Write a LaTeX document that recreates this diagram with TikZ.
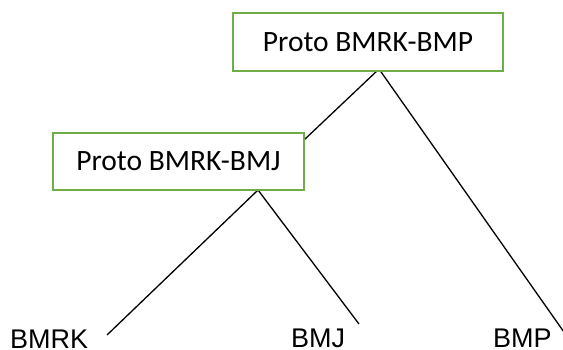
\documentclass[tikz,border=0pt]{standalone}
\usepackage{fontspec}
\setmainfont{Liberation Sans}
\newfontfamily\boxfont{Carlito}
\begin{document}
\begin{tikzpicture}[x=1pt,y=-1pt,
  protobox/.style={draw={rgb,255:red,112;green,173;blue,71}, line width=2.4pt, fill=white,
    minimum width=270pt, minimum height=58pt, inner sep=0pt, font=\boxfont\fontsize{29.5}{34}\selectfont},
  leaf/.style={anchor=base west, inner sep=0pt, font=\fontsize{27}{32}\selectfont},
  branch/.style={line width=1.3pt, black}]
\useasboundingbox (0,0) rectangle (563,349);
\clip (0,0) rectangle (563,349);
\coordinate (a1) at (379,69);
\coordinate (j1) at (304,140);
\coordinate (bmpend) at (578,352);
\coordinate (a2) at (258,190);
\coordinate (kend) at (107,335);
\coordinate (jend) at (359,324);
\draw[branch] (a1) -- (j1);
\draw[branch] (a1) -- (bmpend);
\draw[branch] (a2) -- (kend);
\draw[branch] (a2) -- (jend);
\node[protobox] (top) at (368,42) {Proto BMRK-BMP};
\node[protobox, minimum width=251pt, minimum height=57pt] (mid) at (178.5,161.5) {Proto BMRK-BMJ};
\node[leaf] (bmrk) at (10,348) {BMRK};
\node[leaf] (bmj) at (291,347) {BMJ};
\node[leaf] (bmp) at (493,347.5) {BMP};
\end{tikzpicture}
\end{document}
